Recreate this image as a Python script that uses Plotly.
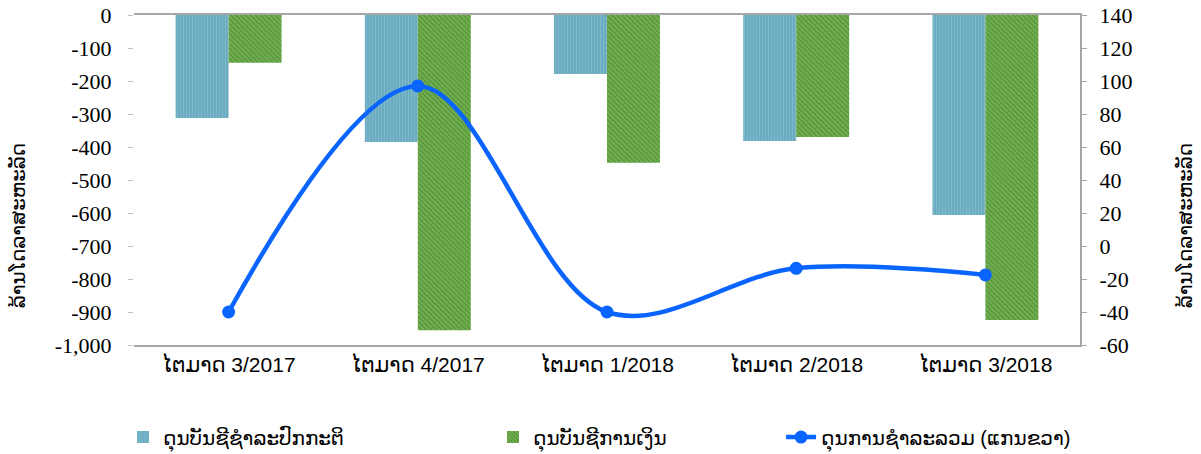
import plotly.graph_objects as go

categories = ["ໄຕມາດ 3/2017", "ໄຕມາດ 4/2017", "ໄຕມາດ 1/2018", "ໄຕມາດ 2/2018", "ໄຕມາດ 3/2018"]
current_account = [-312, -385, -179, -382, -606]
financial_account = [-145, -955, -448, -370, -924]
overall_balance = [-40, 97, -40, -13.5, -17.5]

series_names = ["ດຸນບັນຊີຊໍາລະປົກກະຕິ", "ດຸນບັນຊີການເງິນ", "ດຸນການຊໍາລະລວມ (ແກນຂວາ)"]
axis_title = "ລ້ານໂດລາສະຫະລັດ"

left_ticks = [0, -100, -200, -300, -400, -500, -600, -700, -800, -900, -1000]
left_ticktext = ["0", "-100", "-200", "-300", "-400", "-500", "-600", "-700", "-800", "-900", "-1,000"]
right_ticks = [140, 120, 100, 80, 60, 40, 20, 0, -20, -40, -60]
right_ticktext = ["140", "120", "100", "80", "60", "40", "20", "0", "-20", "-40", "-60"]

num_font = dict(family="Liberation Serif", size=22, color="#000000")
lao_font = dict(family="Liberation Sans, DejaVu Sans", size=20, color="#000000")
cat_font = dict(family="Liberation Sans, DejaVu Sans", size=21, color="#000000")

fig = go.Figure()
fig.add_trace(go.Bar(
    x=categories, y=current_account, name=series_names[0],
    marker=dict(color="#68A9BE", line=dict(width=0),
                pattern=dict(shape="|", fgcolor="#92C7D7", size=3, solidity=0.45)),
    legend="legend",
))
fig.add_trace(go.Bar(
    x=categories, y=financial_account, name=series_names[1],
    marker=dict(color="#579739", line=dict(width=0),
                pattern=dict(shape="\\", fgcolor="#95CC74", size=3.5, solidity=0.5)),
    legend="legend2",
))
fig.add_trace(go.Scatter(
    x=categories, y=overall_balance, name=series_names[2], yaxis="y2",
    mode="lines+markers", line=dict(color="#0A64FF", width=4.5, shape="spline", smoothing=1.0),
    marker=dict(size=13, color="#0A64FF"),
    legend="legend3",
))

fig.update_layout(
    width=1201, height=454,
    margin=dict(l=134, r=121, t=15, b=109, autoexpand=False),
    paper_bgcolor="white", plot_bgcolor="white",
    barmode="group", bargap=0.44, bargroupgap=0,
    showlegend=True,
    xaxis=dict(
        showline=True, linecolor="#A6A6A6", linewidth=2, mirror=True,
        ticks="", tickfont=cat_font, showgrid=False,
    ),
    yaxis=dict(
        range=[-1000, 0], tickvals=left_ticks, ticktext=left_ticktext,
        tickfont=num_font, showgrid=False, zeroline=False,
        showline=False,
        ticks="outside", ticklen=5, tickcolor="#BFBFBF",
        ticklabelstandoff=12, ticklabeloverflow="allow",
    ),
    yaxis2=dict(
        range=[-60, 140], tickvals=right_ticks, ticktext=right_ticktext,
        overlaying="y", side="right", tickfont=num_font, showgrid=False, zeroline=False,
        showline=True, linecolor="#A6A6A6", linewidth=2,
        ticks="outside", ticklen=5, tickcolor="#A6A6A6",
        ticklabelstandoff=8, ticklabeloverflow="allow",
    ),
    legend=dict(x=-0.0116, y=-0.279, xanchor="left", yanchor="middle", orientation="h",
                font=lao_font, bgcolor="rgba(0,0,0,0)"),
    legend2=dict(x=0.3795, y=-0.279, xanchor="left", yanchor="middle", orientation="h",
                 font=lao_font, bgcolor="rgba(0,0,0,0)"),
    legend3=dict(x=0.684, y=-0.279, xanchor="left", yanchor="middle", orientation="h",
                 font=lao_font, bgcolor="rgba(0,0,0,0)"),
    annotations=[
        dict(text=axis_title, xref="paper", yref="paper", x=-0.1226, y=0.36,
             textangle=-90, showarrow=False, font=lao_font, xanchor="center", yanchor="middle"),
        dict(text=axis_title, xref="paper", yref="paper", x=1.111, y=0.36,
             textangle=-90, showarrow=False, font=lao_font, xanchor="center", yanchor="middle"),
    ],
)

fig.write_html("out.html", config={"displayModeBar": False},
               post_script="document.body.style.margin='0';document.body.style.overflow='hidden';")
